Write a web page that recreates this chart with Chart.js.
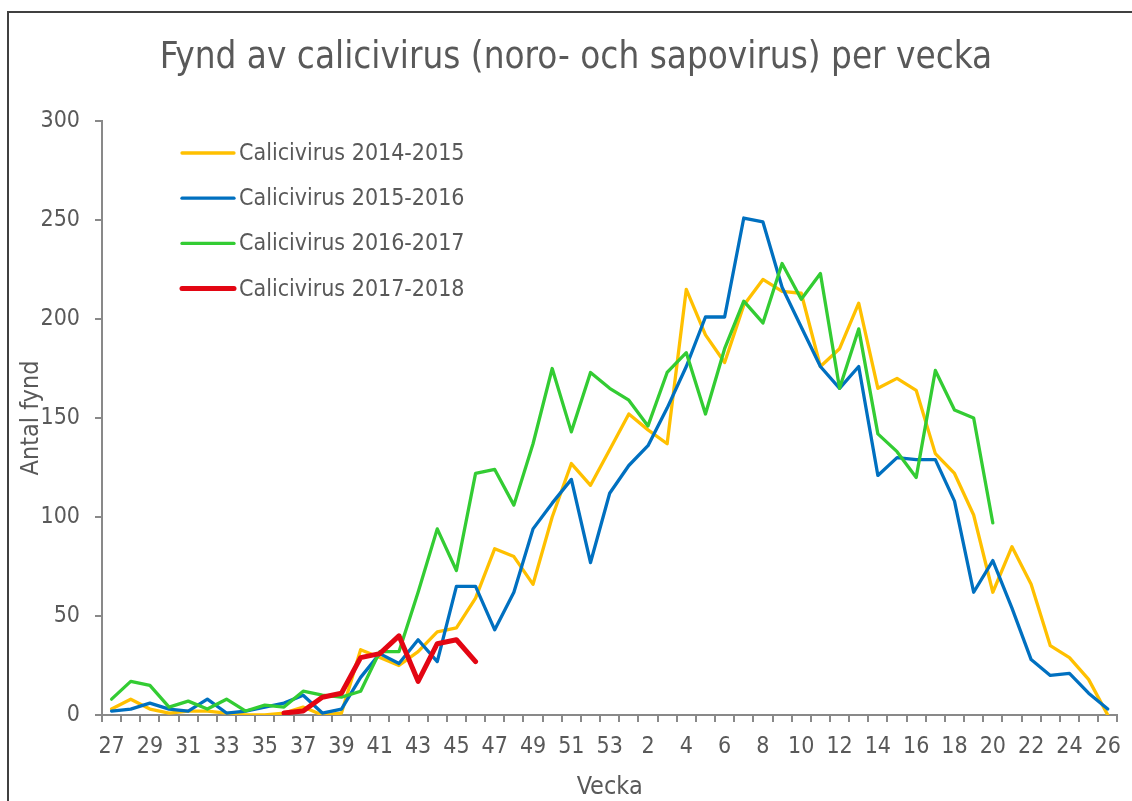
<!DOCTYPE html>
<html>
<head>
<meta charset="utf-8">
<script src="https://cdn.jsdelivr.net/npm/chart.js@4/dist/chart.umd.min.js"></script>
<style>
  html, body { margin: 0; padding: 0; background: #fff; }
  canvas { display: block; }
</style>
</head>
<body>
<canvas id="caliciChart" width="1132" height="801"></canvas>
<script>
// weeks 27..53, then 1..26
const weeks = ["27","28","29","30","31","32","33","34","35","36","37","38","39","40","41","42","43","44","45","46","47","48","49","50","51","52","53",
  "1","2","3","4","5","6","7","8","9","10","11","12","13","14","15","16","17","18","19","20","21","22","23","24","25","26"];

const season1415 = [3, 8, 3, 1, 2, 2, 1, 0, 0, 1, 4, 0, 1, 33, 29, 25, 32, 42, 44, 59, 84, 80, 66, 100, 127, 116, 134,
  152, 144, 137, 215, 192, 178, 207, 220, 214, 213, 176, 185, 208, 165, 170, 164, 132, 122, 101, 62, 85, 66, 35, 29, 18, 0];

const season1516 = [2, 3, 6, 3, 2, 8, 1, 2, 4, 6, 10, 1, 3, 19, 31, 26, 38, 27, 65, 65, 43, 62, 94, 107, 119, 77, 112,
  126, 136, 155, 176, 201, 201, 251, 249, 216, 196, 176, 165, 176, 121, 130, 129, 129, 108, 62, 78, 54, 28, 20, 21, 11, 3];

const season1617 = [8, 17, 15, 4, 7, 3, 8, 2, 5, 4, 12, 10, 9, 12, 32, 32, 62, 94, 73, 122, 124, 106, 137, 175, 143, 173, 165,
  159, 146, 173, 183, 152, 185, 209, 198, 228, 210, 223, 165, 195, 142, 133, 120, 174, 154, 150, 97, null, null, null, null, null, null];

const season1718 = [null, null, null, null, null, null, null, null, null, 1, 2, 9, 11, 29, 31, 40, 17, 36, 38, 27];

const seriesNames = ["Calicivirus 2014-2015", "Calicivirus 2015-2016", "Calicivirus 2016-2017", "Calicivirus 2017-2018"];
const yTicks = [0, 50, 100, 150, 200, 250, 300];

const fontFam = "'DejaVu Sans Condensed', 'DejaVu Sans', sans-serif";
const textGray = "#595959";
const axisGray = "#898989";

// legend sits inside the plot, top left
const legendInPlot = {
  id: "legendInPlot",
  afterDraw(chart) {
    const ctx = chart.ctx;
    ctx.save();
    ctx.font = "23px " + fontFam;
    ctx.textBaseline = "middle";
    ctx.fillStyle = textGray;
    chart.data.datasets.forEach((ds, i) => {
      const y = 153 + i * 45.2;
      ctx.strokeStyle = ds.borderColor;
      ctx.lineWidth = ds.borderWidth;
      ctx.lineCap = "round";
      ctx.beginPath();
      ctx.moveTo(182, y);
      ctx.lineTo(234, y);
      ctx.stroke();
      ctx.fillText(ds.label, 239, y + 1);
    });
    ctx.restore();
  }
};

const frame = {
  id: "frame",
  beforeDraw(chart) {
    const ctx = chart.ctx;
    ctx.save();
    ctx.strokeStyle = "#404040";
    ctx.lineWidth = 2;
    ctx.beginPath();
    ctx.moveTo(8, chart.height);
    ctx.lineTo(8, 12);
    ctx.lineTo(chart.width, 12);
    ctx.stroke();
    ctx.restore();
  }
};

const statsChart = document.getElementById("caliciChart").getContext("2d");
const chart = new Chart(statsChart, {
  type: "line",
  data: {
    labels: weeks,
    datasets: [
      { label: seriesNames[0], data: season1415, borderColor: "#FFC000", borderWidth: 3.3, order: 4 },
      { label: seriesNames[1], data: season1516, borderColor: "#0070C0", borderWidth: 3.3, order: 3 },
      { label: seriesNames[2], data: season1617, borderColor: "#33CC33", borderWidth: 3.3, order: 2 },
      { label: seriesNames[3], data: season1718, borderColor: "#E30613", borderWidth: 5, order: 1 }
    ]
  },
  options: {
    responsive: false,
    animation: false,
    devicePixelRatio: 1,
    // left padding moves the title centre to the right, y axis width makes up for it
    layout: { padding: { top: 0, left: 28, right: 8, bottom: 0 } },
    elements: {
      point: { radius: 0, hoverRadius: 0 },
      line: { tension: 0, borderJoinStyle: "round", borderCapStyle: "round", fill: false }
    },
    plugins: {
      legend: { display: false },
      tooltip: { enabled: false },
      title: {
        display: true,
        text: "Fynd av calicivirus (noro- och sapovirus) per vecka",
        color: textGray,
        font: { family: fontFam, size: 36.5, weight: "normal", lineHeight: 1.2 },
        padding: { top: 37, bottom: 40.2 }
      }
    },
    scales: {
      x: {
        type: "category",
        offset: true,
        afterFit(scale) { scale.height = 86; },
        border: { color: axisGray, width: 2 },
        grid: { offset: true, drawOnChartArea: false, drawTicks: true, tickLength: 7, color: axisGray, lineWidth: 2 },
        ticks: {
          autoSkip: false,
          maxRotation: 0,
          padding: 11,
          color: textGray,
          font: { family: fontFam, size: 23 },
          callback: function (value, index) { return index % 2 === 0 ? this.getLabelForValue(value) : ""; }
        },
        title: {
          display: true,
          text: "Vecka",
          color: textGray,
          font: { family: fontFam, size: 25, lineHeight: 1 },
          padding: { top: 0, bottom: 1 }
        }
      },
      y: {
        min: yTicks[0],
        max: yTicks[yTicks.length - 1],
        afterFit(scale) { scale.width = 74; },
        afterBuildTicks(scale) { scale.ticks = yTicks.map(v => ({ value: v })); },
        border: { color: axisGray, width: 2 },
        grid: { drawOnChartArea: false, drawTicks: true, tickLength: 7, color: axisGray, lineWidth: 2 },
        ticks: {
          padding: 15,
          color: textGray,
          font: { family: fontFam, size: 23 }
        },
        title: {
          display: true,
          text: "Antal fynd",
          color: textGray,
          font: { family: fontFam, size: 25, lineHeight: 1 },
          padding: { top: -9.5, bottom: 0 }
        }
      }
    }
  },
  plugins: [frame, legendInPlot]
});
</script>
</body>
</html>
